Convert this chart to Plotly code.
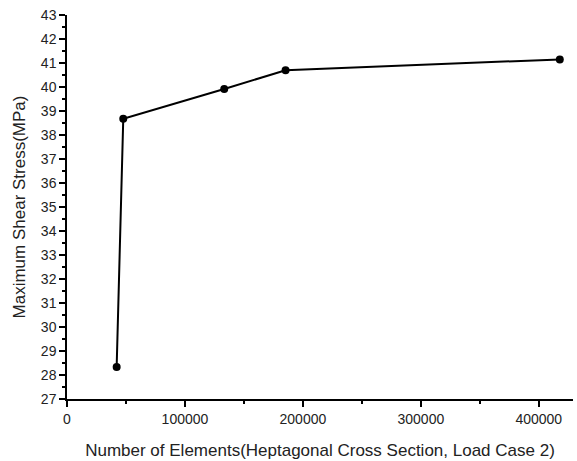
import plotly.graph_objects as go

# Mesh convergence study: heptagonal cross section, load case 2
elements = [42100, 47700, 133300, 185300, 417800]
max_shear = [28.33, 38.68, 39.92, 40.70, 41.15]

y_ticks = list(range(27, 44))
x_ticks = [0, 100000, 200000, 300000, 400000]

fig = go.Figure()
fig.add_trace(go.Scatter(
    x=elements, y=max_shear,
    mode="lines+markers",
    line=dict(color="black", width=2),
    marker=dict(color="black", size=8),
    showlegend=False,
))

axis_font = dict(family="Liberation Sans, Arial, sans-serif", size=14, color="#222")

fig.update_layout(
    width=577, height=461,
    margin=dict(l=67, r=4, t=15, b=62),
    plot_bgcolor="white", paper_bgcolor="white",
    font=axis_font,
)
fig.update_xaxes(
    range=[0, 429000],
    tickvals=x_ticks, ticktext=[str(v) for v in x_ticks],
    ticks="outside", ticklen=6, tickwidth=1.5, tickcolor="black",
    minor=dict(dtick=50000, ticks="outside", ticklen=3, tickwidth=1.5, tickcolor="black"),
    showline=True, linecolor="black", linewidth=1.5,
    showgrid=False, zeroline=False,
    title=dict(text="Number of Elements(Heptagonal Cross Section, Load Case 2)", standoff=19),
    tickfont=axis_font,
)
fig.update_yaxes(
    range=[27, 43],
    tickvals=y_ticks, ticktext=[str(v) for v in y_ticks],
    ticks="outside", ticklen=6, tickwidth=1.5, tickcolor="black",
    minor=dict(dtick=0.5, ticks="outside", ticklen=3, tickwidth=1.5, tickcolor="black"),
    showline=True, linecolor="black", linewidth=1.5,
    showgrid=False, zeroline=False,
    title=dict(text="Maximum Shear Stress(MPa)", standoff=11),
    tickfont=axis_font,
)

fig.write_html("out.html")
